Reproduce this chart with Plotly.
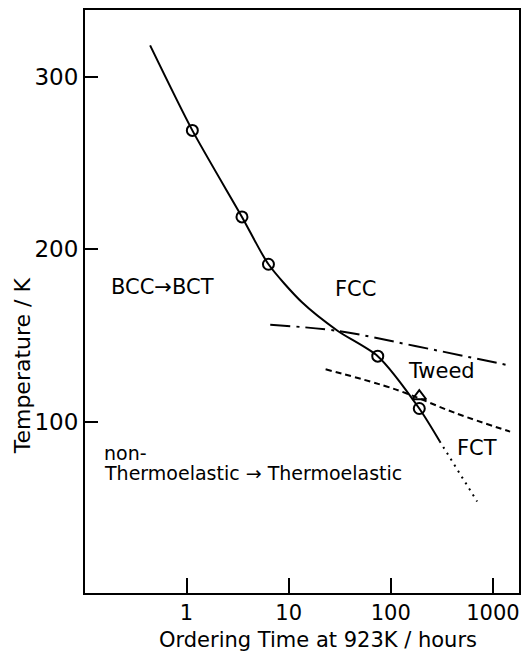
import numpy as np
import plotly.graph_objects as go

# Measured transformation temperatures vs. ordering time
circle_time = [1.14, 3.49, 6.34, 74.5, 190]
circle_temp = [268.8, 218.7, 191.3, 138.1, 107.8]
triangle_time = [190]
triangle_temp = [114.9]

# Ms boundary (solid) and its extrapolation (dotted)
ms_time = [0.44, 1.14, 3.49, 6.34, 13.5, 30.3, 74.5, 190, 300]
ms_temp = [318, 268.8, 218.7, 191.3, 169.3, 152.7, 138.1, 107.8, 89]
ms_ext_time = [300, 700]
ms_ext_temp = [89, 54]

# Tweed onset (dash-dot) and FCT boundary (dashed)
tweed_time = [6.6, 30.3, 173, 1345]
tweed_temp = [156.3, 152.7, 144.0, 133.1]
fct_time = [23, 111, 428, 1472]
fct_temp = [130.5, 118.9, 105.2, 94.4]

x_ticks = [1, 10, 100, 1000]
x_ticktext = ["1", "10", "100", "1000"]
y_ticks = [100, 200, 300]

FONT = "DejaVu Sans"

fig = go.Figure()

fig.add_trace(go.Scatter(x=ms_time, y=ms_temp, mode="lines",
                         line=dict(color="black", width=2, shape="spline", smoothing=0.7)))
fig.add_trace(go.Scatter(x=ms_ext_time, y=ms_ext_temp, mode="lines",
                         line=dict(color="black", width=2, dash="2px,5px")))
fig.add_trace(go.Scatter(x=tweed_time, y=tweed_temp, mode="lines",
                         line=dict(color="black", width=2, shape="spline",
                                   dash="20px,6px,3px,6px")))
fig.add_trace(go.Scatter(x=fct_time, y=fct_temp, mode="lines",
                         line=dict(color="black", width=2, shape="spline",
                                   dash="6px,4px")))
fig.add_trace(go.Scatter(x=circle_time, y=circle_temp, mode="markers",
                         marker=dict(symbol="circle-open", size=11, color="black",
                                     line=dict(width=2, color="black"))))
fig.add_trace(go.Scatter(x=triangle_time, y=triangle_temp, mode="markers",
                         marker=dict(symbol="triangle-up-open", size=12, color="black",
                                     line=dict(width=2, color="black"))))

labels = [
    ("BCC\u2192BCT", 10 ** -0.234, 178),
    ("FCC", 10 ** 1.657, 177),
    ("Tweed", 10 ** 2.499, 129.6),
    ("FCT", 10 ** 2.846, 85.2),
]
for text, x, y in labels:
    fig.add_annotation(x=np.log10(x), y=y, text=text, showarrow=False,
                       xanchor="center", yanchor="middle",
                       font=dict(family=FONT, size=21, color="black"))

fig.add_annotation(x=-0.83, y=82, text="non-", showarrow=False,
                   xanchor="left", yanchor="middle",
                   font=dict(family=FONT, size=19, color="black"))
fig.add_annotation(x=-0.83, y=70.5,
                   text="Thermoelastic \u2192 Thermoelastic", showarrow=False,
                   xanchor="left", yanchor="middle",
                   font=dict(family=FONT, size=19, color="black"))

# Axis titles
fig.add_annotation(xref="paper", yref="paper", x=(319.5 - 85) / 436, y=-47 / 583,
                   text="Ordering Time at 923K / hours", showarrow=False,
                   xanchor="center", yanchor="middle",
                   font=dict(family=FONT, size=21, color="black"))
fig.add_annotation(xref="paper", yref="paper", x=-63 / 436, y=(593 - 366) / 583,
                   text="Temperature / K", showarrow=False, textangle=-90,
                   xanchor="center", yanchor="middle",
                   font=dict(family=FONT, size=22, color="black"))

fig.update_layout(
    width=528, height=656,
    margin=dict(l=85, r=7, t=10, b=63),
    paper_bgcolor="white", plot_bgcolor="white",
    showlegend=False,
)
fig.update_xaxes(type="log", range=[-0.994, 3.255],
                 tickmode="array", tickvals=x_ticks, ticktext=x_ticktext,
                 ticks="inside", ticklen=15, tickwidth=2, tickcolor="black",
                 showline=True, linewidth=2, linecolor="black", mirror=True,
                 showgrid=False, zeroline=False,
                 tickfont=dict(family=FONT, size=21, color="black"))
fig.update_yaxes(range=[1, 338.5],
                 tickmode="array", tickvals=y_ticks,
                 ticks="inside", ticklen=13, tickwidth=2, tickcolor="black",
                 showline=True, linewidth=2, linecolor="black", mirror=True,
                 showgrid=False, zeroline=False, ticklabelstandoff=0,
                 tickfont=dict(family=FONT, size=23, color="black"))

fig.write_html("out.html")
